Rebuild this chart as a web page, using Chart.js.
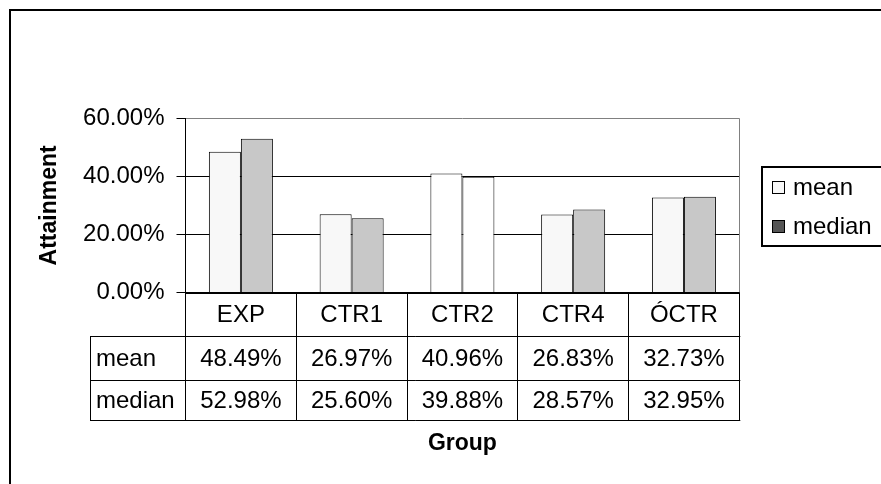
<!DOCTYPE html>
<html>
<head>
<meta charset="utf-8">
<title>Attainment by Group</title>
<script src="https://cdn.jsdelivr.net/npm/chart.js@4.4.1/dist/chart.umd.min.js"></script>
<style>
  html, body { margin: 0; padding: 0; background: #fff; overflow: hidden; }
  #frame { position: absolute; left: 9px; top: 9px; width: 900px; height: 500px; border-top: 2px solid #000; border-left: 2px solid #000; }
  #wrap { position: absolute; left: 0; top: 0; width: 881px; height: 484px; }
</style>
</head>
<body>
<div id="frame"></div>
<div id="wrap"><canvas id="attainment-chart" width="881" height="484"></canvas></div>
<script>
// Chart data
const groups = ['EXP', 'CTR1', 'CTR2', 'CTR4', 'ÓCTR'];
const meanValues = [48.49, 26.97, 40.96, 26.83, 32.73];
const medianValues = [52.98, 25.60, 39.88, 28.57, 32.95];
const yTicks = [0, 20, 40, 60];

// Fonts
const FONT_FAMILY = '"Liberation Sans", Arial, sans-serif';
const TEXT_FONT = '24px ' + FONT_FAMILY;

// Crisp 1px lines
function crisp(v) {
    return Math.floor(v) + 0.5;
}

function formatPercent(v) {
    return v.toFixed(2) + '%';
}

function line(ctx, x1, y1, x2, y2) {
    ctx.beginPath();
    ctx.moveTo(x1, y1);
    ctx.lineTo(x2, y2);
    ctx.stroke();
}

// Data table under the plot, legend box and plot frame
const dataTablePlugin = {
    id: 'dataTable',
    afterDraw(chart) {
        const ctx = chart.ctx;
        const area = chart.chartArea;
        const xScale = chart.scales.x;
        const colWidth = (xScale.right - xScale.left) / groups.length;
        const rowTops = [area.bottom, area.bottom + 44, area.bottom + 88, area.bottom + 127.5];
        const labelLeft = 90;
        const rows = chart.data.datasets.map(ds => ({ label: ds.label, values: ds.data }));

        ctx.save();

        // Plot area right border
        ctx.strokeStyle = '#808080';
        ctx.lineWidth = 1;
        line(ctx, crisp(area.right), area.top, crisp(area.right), area.bottom);

        // Table grid
        ctx.strokeStyle = '#000';
        for (let r = 1; r < rowTops.length; r++) {
            line(ctx, labelLeft, crisp(rowTops[r]), area.right + 1, crisp(rowTops[r]));
        }
        line(ctx, crisp(labelLeft), rowTops[1], crisp(labelLeft), rowTops[3]);
        for (let i = 0; i <= groups.length; i++) {
            const x = crisp(xScale.left + i * colWidth);
            line(ctx, x, rowTops[0], x, rowTops[3]);
        }

        // Table text
        ctx.font = TEXT_FONT;
        ctx.fillStyle = '#000';
        ctx.textBaseline = 'middle';
        ctx.textAlign = 'center';
        groups.forEach((g, i) => {
            ctx.fillText(g, xScale.getPixelForValue(i), (rowTops[0] + rowTops[1]) / 2 + 1);
        });
        rows.forEach((row, r) => {
            const yMid = (rowTops[r + 1] + rowTops[r + 2]) / 2 + 1;
            ctx.textAlign = 'left';
            ctx.fillText(row.label, labelLeft + 6, yMid);
            ctx.textAlign = 'center';
            row.values.forEach((v, i) => {
                ctx.fillText(formatPercent(v), xScale.getPixelForValue(i), yMid);
            });
        });

        // Legend box
        const legendSwatches = ['#f8f8f8', '#555555'];
        ctx.lineWidth = 2;
        ctx.strokeRect(762, 167, 140, 79);
        ctx.lineWidth = 1;
        rows.forEach((row, r) => {
            const yMid = 187 + r * 39;
            ctx.fillStyle = legendSwatches[r];
            ctx.fillRect(772, yMid - 6, 12, 12);
            ctx.strokeStyle = '#000';
            ctx.strokeRect(772.5, yMid - 5.5, 12, 12);
            ctx.fillStyle = '#000';
            ctx.textAlign = 'left';
            ctx.fillText(row.label, 793, yMid + 1);
        });

        ctx.restore();
    }
};

// Build chart
function initializeChart() {
    const ctx = document.getElementById('attainment-chart').getContext('2d');

    new Chart(ctx, {
        type: 'bar',
        data: {
            labels: groups,
            datasets: [
                {
                    label: 'mean',
                    data: meanValues,
                    backgroundColor: ['#f8f8f8', '#f8f8f8', '#ffffff', '#f8f8f8', '#f8f8f8'],
                    borderColor: '#000',
                    borderWidth: 1
                },
                {
                    label: 'median',
                    data: medianValues,
                    backgroundColor: ['#c8c8c8', '#c8c8c8', '#ffffff', '#c8c8c8', '#c8c8c8'],
                    borderColor: '#000',
                    borderWidth: 1
                }
            ]
        },
        options: {
            responsive: false,
            animation: false,
            layout: {
                padding: { left: 36, right: 141.7, top: 118.3, bottom: 27 }
            },
            datasets: {
                bar: {
                    categoryPercentage: 0.578,
                    barPercentage: 1
                }
            },
            plugins: {
                legend: { display: false },
                tooltip: { enabled: false }
            },
            scales: {
                x: {
                    afterFit: function(scale) {
                        scale.height = 164.5;
                    },
                    ticks: { display: false },
                    grid: { display: false },
                    border: { display: true, color: '#000', width: 2 },
                    title: {
                        display: true,
                        text: 'Group',
                        color: '#000',
                        font: { family: FONT_FAMILY, size: 23, weight: 'bold' },
                        padding: 0
                    }
                },
                y: {
                    min: 0,
                    max: 60,
                    afterFit: function(scale) {
                        scale.width = 149.5;
                    },
                    afterBuildTicks: function(scale) {
                        scale.ticks = yTicks.map(v => ({ value: v }));
                    },
                    ticks: {
                        color: '#000',
                        padding: 12,
                        font: { family: FONT_FAMILY, size: 24 },
                        callback: function(value) {
                            return formatPercent(value);
                        }
                    },
                    grid: {
                        color: function(context) {
                            return context.tick && context.tick.value === 60 ? '#808080' : '#000';
                        },
                        tickColor: '#000',
                        tickLength: 9,
                        lineWidth: 1
                    },
                    border: { display: true, color: '#000', width: 1 },
                    title: {
                        display: true,
                        text: 'Attainment',
                        color: '#000',
                        font: { family: FONT_FAMILY, size: 23, weight: 'bold' },
                        padding: 0
                    }
                }
            }
        },
        plugins: [dataTablePlugin]
    });
}

initializeChart();
</script>
</body>
</html>
